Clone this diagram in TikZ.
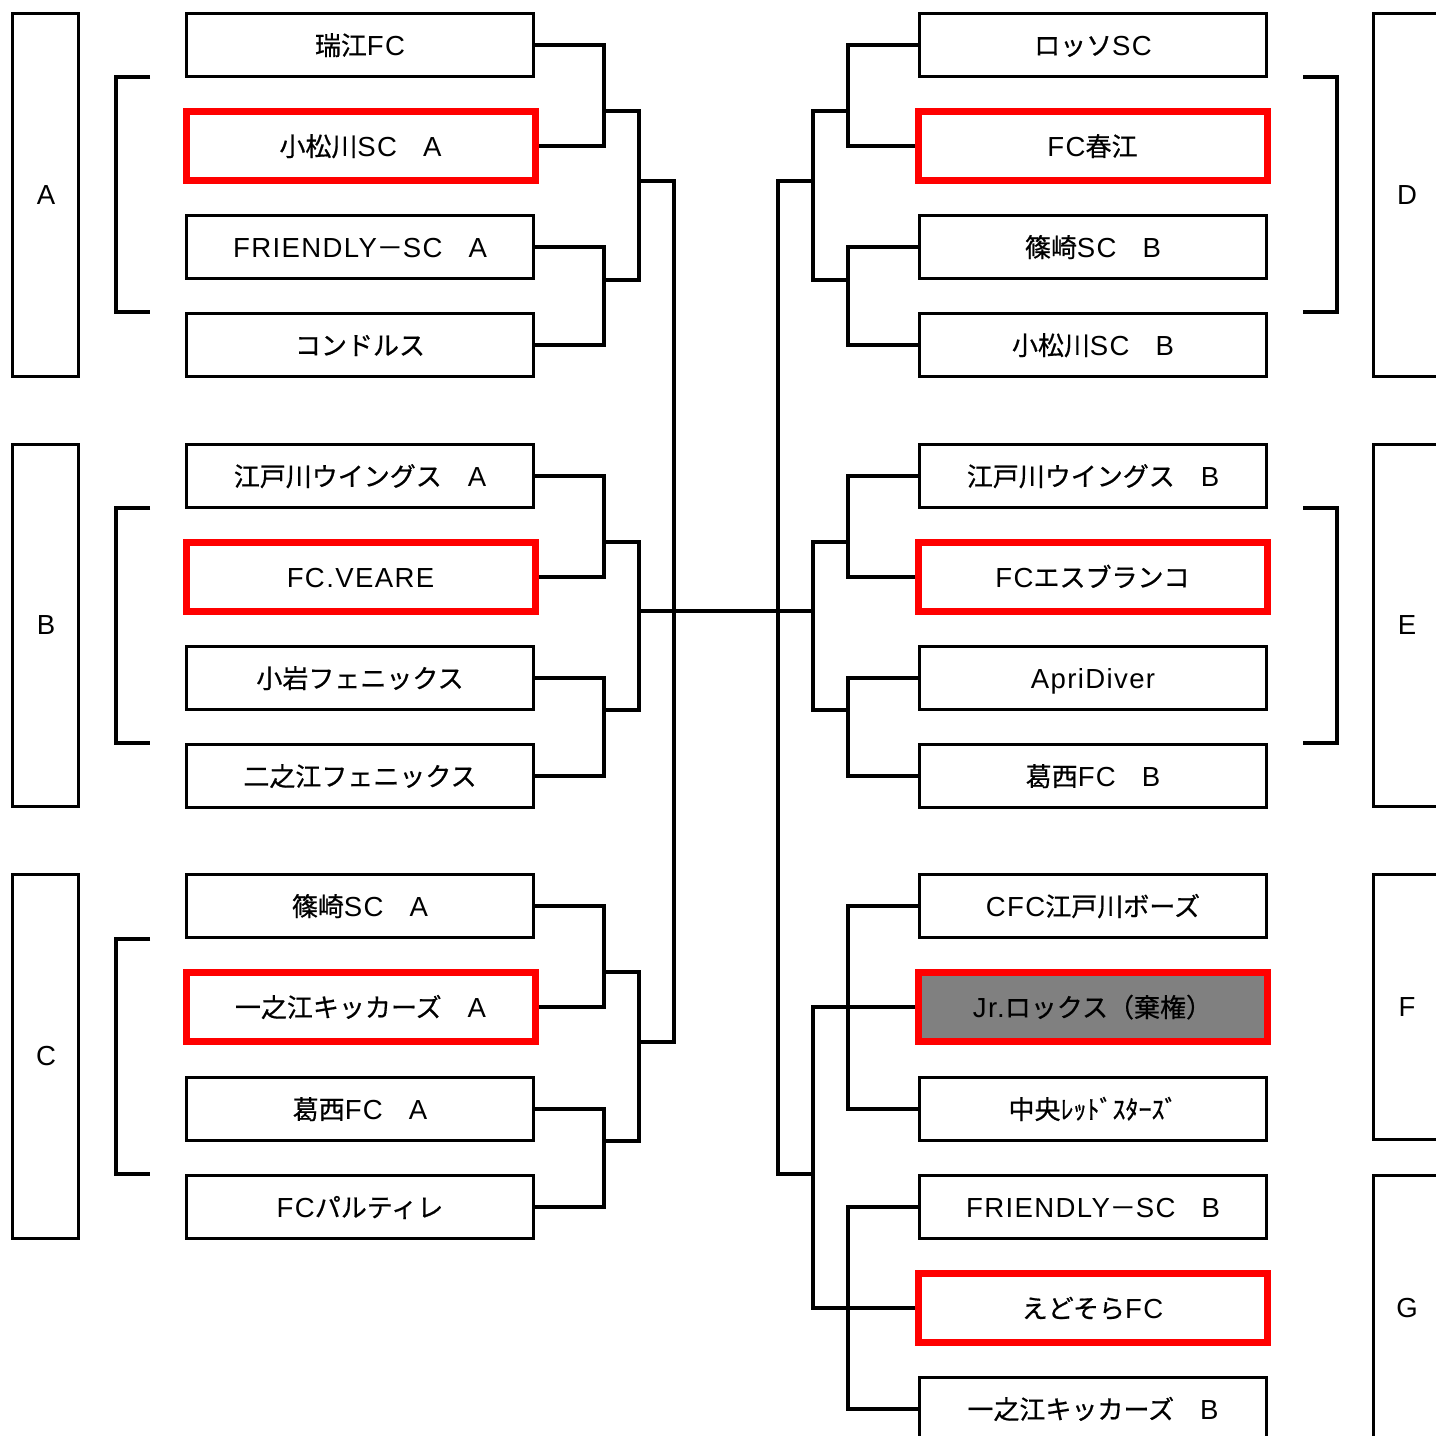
\documentclass[tikz,border=0pt]{standalone}
\usepackage{fontspec}
\setmainfont[Scale=1.06,LetterSpace=5]{Liberation Sans}
\newfontfamily\cj[FakeBold=0.6]{Noto Sans CJK JP}
\definecolor{boxgray}{RGB}{128,128,128}
\begin{document}
\begin{tikzpicture}[x=0.5pt,y=-0.5pt,
  team/.style={draw=black,line width=1.6pt,minimum width=173.5pt,minimum height=31.5pt,inner sep=0pt,text height=10pt,text depth=0pt,font=\fontsize{13}{15}\selectfont},
  win/.style={team,draw=red,line width=3.5pt,minimum width=174.5pt,minimum height=34.5pt},
  grp/.style={draw=black,line width=1.6pt,inner sep=0pt,minimum width=33pt},
  rgrp/.style={grp,minimum width=80pt},
  glabel/.style={inner sep=0pt,font=\fontsize{13}{15}\selectfont},
  link/.style={draw=black,line width=1.6pt},
]
\useasboundingbox (0,0) rectangle (1436,1436);
\clip (0,0) rectangle (1436,1436);
\fill[white] (0,0) rectangle (1436,1436);

% group boxes
\node[grp,minimum height=181.5pt] (gA) at (45.5,195) {};
\node[grp,minimum height=181pt] (gB) at (45.5,625.5) {};
\node[grp,minimum height=182pt] (gC) at (45.5,1056.5) {};
\node[rgrp,minimum height=181.5pt] (gD) at (1453.5,195) {};
\node[rgrp,minimum height=181pt] (gE) at (1453.5,625.5) {};
\node[rgrp,minimum height=132.5pt] (gF) at (1453.5,1007) {};
\node[rgrp,minimum height=182pt] (gG) at (1453.5,1357.5) {};
\node[glabel] (lA) at (46,195) {A};
\node[glabel] (lB) at (46,625) {B};
\node[glabel] (lC) at (46,1056) {C};
\node[glabel] (lD) at (1407,195) {D};
\node[glabel] (lE) at (1407,625) {E};
\node[glabel] (lF) at (1407,1007) {F};
\node[glabel] (lG) at (1407,1308) {G};

% brackets
\draw[link] (150,77) -- (116,77) -- (116,312) -- (150,312);
\draw[link] (150,508) -- (116,508) -- (116,743) -- (150,743);
\draw[link] (150,939) -- (116,939) -- (116,1174) -- (150,1174);
\draw[link] (1303,77) -- (1337,77) -- (1337,312) -- (1303,312);
\draw[link] (1303,508) -- (1337,508) -- (1337,743) -- (1303,743);

% left teams
\node[team] (L1) at (360,45) {{\cj 瑞江}FC};
\node[win]  (L2) at (360.5,146) {{\cj 小松川}SC{\cj 　}A};
\node[team] (L3) at (360,247) {FRIENDLY{\cj －}SC{\cj 　}A};
\node[team] (L4) at (360,345) {{\cj コンドルス}};
\node[team] (L5) at (360,476) {{\cj 江戸川ウイングス　}A};
\node[win]  (L6) at (360.5,577) {FC.VEARE};
\node[team] (L7) at (360,678) {{\cj 小岩フェニックス}};
\node[team] (L8) at (360,776) {{\cj 二之江フェニックス}};
\node[team] (L9) at (360,906) {{\cj 篠崎}SC{\cj 　}A};
\node[win]  (L10) at (360.5,1007) {{\cj 一之江キッカーズ　}A};
\node[team] (L11) at (360,1109) {{\cj 葛西}FC{\cj 　}A};
\node[team] (L12) at (360,1207) {FC{\cj パルティレ}};

% right teams
\node[team] (R1) at (1093,45) {{\cj ロッソ}SC};
\node[win]  (R2) at (1092.5,146) {FC{\cj 春江}};
\node[team] (R3) at (1093,247) {{\cj 篠崎}SC{\cj 　}B};
\node[team] (R4) at (1093,345) {{\cj 小松川}SC{\cj 　}B};
\node[team] (R5) at (1093,476) {{\cj 江戸川ウイングス　}B};
\node[win]  (R6) at (1092.5,577) {FC{\cj エスブランコ}};
\node[team] (R7) at (1093,678) {ApriDiver};
\node[team] (R8) at (1093,776) {{\cj 葛西}FC{\cj 　}B};
\node[team] (R9) at (1093,906) {CFC{\cj 江戸川ボーズ}};
\node[win,fill=boxgray] (R10) at (1092.5,1007) {Jr.{\cj ロックス（棄権）}};
\node[team] (R11) at (1093,1109) {{\cj 中央ﾚｯﾄﾞｽﾀｰｽﾞ}};
\node[team] (R12) at (1093,1207) {FRIENDLY{\cj －}SC{\cj 　}B};
\node[win]  (R13) at (1092.5,1308) {{\cj えどそら}FC};
\node[team] (R14) at (1093,1409) {{\cj 一之江キッカーズ　}B};

% junction coordinates
\coordinate (q1) at (604,111);
\coordinate (q2) at (604,280);
\coordinate (q3) at (604,542);
\coordinate (q4) at (604,710);
\coordinate (q5) at (604,972);
\coordinate (q6) at (604,1141);
\coordinate (r1) at (639,181);
\coordinate (r2) at (639,611);
\coordinate (r3) at (639,1042);
\coordinate (fL) at (674,611);
\coordinate (p1) at (848,111);
\coordinate (p2) at (848,280);
\coordinate (p3) at (848,542);
\coordinate (p4) at (848,710);
\coordinate (p5) at (848,1007);
\coordinate (p6) at (848,1308);
\coordinate (s1) at (813,181);
\coordinate (s2) at (813,611);
\coordinate (s4) at (813,1174);
\coordinate (fR) at (778,611);

% left connectors
\draw[link] (L1.east) -| (q1) |- (L2.east);
\draw[link] (L3.east) -| (q2) |- (L4.east);
\draw[link] (L5.east) -| (q3) |- (L6.east);
\draw[link] (L7.east) -| (q4) |- (L8.east);
\draw[link] (L9.east) -| (q5) |- (L10.east);
\draw[link] (L11.east) -| (q6) |- (L12.east);
\draw[link] (q1) -| (r1);
\draw[link] (q2) -| (r1);
\draw[link] (q3) -| (r2);
\draw[link] (q4) -| (r2);
\draw[link] (q5) -| (r3);
\draw[link] (q6) -| (r3);
\draw[link] (r1) -| (fL) |- (r3);
\draw[link] (r2) -- (s2);

% right connectors
\draw[link] (R1.west) -| (p1) |- (R2.west);
\draw[link] (R3.west) -| (p2) |- (R4.west);
\draw[link] (R5.west) -| (p3) |- (R6.west);
\draw[link] (R7.west) -| (p4) |- (R8.west);
\draw[link] (p1) -| (s1);
\draw[link] (p2) -| (s1);
\draw[link] (p3) -| (s2);
\draw[link] (p4) -| (s2);
\draw[link] (s1) -| (fR) |- (s4);
\draw[link] (R9.west) -| (p5) |- (R11.west);
\draw[link] (R10.west) -| (s4) |- (R13.west);
\draw[link] (R12.west) -| (p6) |- (R14.west);
\end{tikzpicture}
\end{document}
